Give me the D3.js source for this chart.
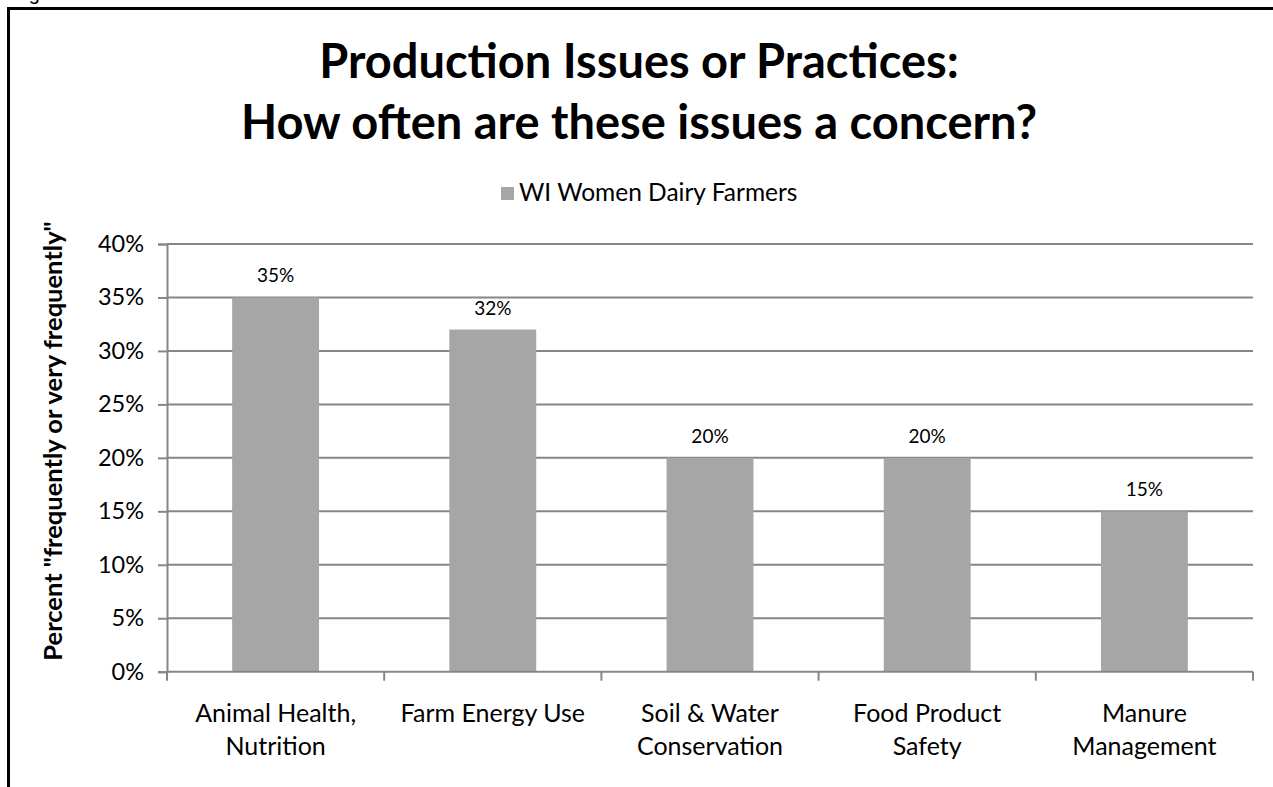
<!DOCTYPE html>
<html>
<head>
<meta charset="utf-8">
<script src="https://cdn.jsdelivr.net/npm/d3@7"></script>
<style>
  html, body { margin: 0; padding: 0; background: #fff; }
  svg { display: block; }
  text { font-family: Lato, "Open Sans", sans-serif; fill: #000; }
</style>
</head>
<body>
<svg id="chart" width="1273" height="787"></svg>
<script>
// ---- data ----
const categories = ["Animal Health,\nNutrition", "Farm Energy Use", "Soil & Water\nConservation", "Food Product\nSafety", "Manure\nManagement"];
const values = [0.35, 0.32, 0.20, 0.20, 0.15];
const seriesName = "WI Women Dairy Farmers";
const yTickValues = [0, 0.05, 0.10, 0.15, 0.20, 0.25, 0.30, 0.35, 0.40];
const titleLines = ["Production Issues or Practices:", "How often are these issues a concern?"];
const yAxisTitle = "Percent \"frequently or very frequently\"";
const figureLabel = "Figure 9";

// ---- layout ----
const W = 1273, H = 787;
const plot = { left: 167, right: 1253, top: 244, bottom: 671.7 };
const barColor = "#A6A6A6";
const gridColor = "#868686";

const svg = d3.select("#chart");

// figure label (cut off at top edge, as in the source page)
svg.append("text").attr("x", 12).attr("y", 0)
  .style("font-family", "Arial, 'Liberation Sans', sans-serif")
  .style("font-size", "20px").text(figureLabel);

// frame lines (top and left)
svg.append("line").attr("x1", 7).attr("x2", W).attr("y1", 8.5).attr("y2", 8.5)
  .attr("stroke", "#000").attr("stroke-width", 3);
svg.append("line").attr("x1", 8.5).attr("x2", 8.5).attr("y1", 7).attr("y2", H)
  .attr("stroke", "#000").attr("stroke-width", 3);

// scales
const x = d3.scaleBand().domain(categories).range([plot.left, plot.right])
  .paddingInner(0.6).paddingOuter(0.3);
const y = d3.scaleLinear().domain([0, 0.40]).range([plot.bottom, plot.top]);

// gridlines
svg.append("g").selectAll("line").data(yTickValues.filter(d => d > 0)).join("line")
  .attr("x1", plot.left).attr("x2", plot.right)
  .attr("y1", d => y(d)).attr("y2", d => y(d))
  .attr("stroke", gridColor).attr("stroke-width", 2);

// bars
svg.append("g").selectAll("rect").data(values).join("rect")
  .attr("x", (d, i) => x(categories[i]))
  .attr("width", x.bandwidth())
  .attr("y", d => y(d))
  .attr("height", d => y(0) - y(d))
  .attr("fill", barColor);

// data labels
svg.append("g").selectAll("text").data(values).join("text")
  .attr("x", (d, i) => x(categories[i]) + x.bandwidth() / 2)
  .attr("y", d => y(d) - 15)
  .attr("text-anchor", "middle")
  .style("font-size", "19px")
  .text(d => d3.format(".0%")(d));

// y axis
const yAxis = d3.axisLeft(y).tickValues(yTickValues).tickFormat(d3.format(".0%"))
  .tickSize(9).tickPadding(14);
const gy = svg.append("g").attr("transform", `translate(${plot.left},0)`).call(yAxis);
gy.select(".domain").attr("stroke", gridColor).attr("stroke-width", 2);
gy.selectAll(".tick line").attr("stroke", gridColor).attr("stroke-width", 2);
gy.selectAll(".tick text").style("font-family", "Lato, sans-serif").style("font-size", "23.5px").attr("fill", "#000");

// x axis
const gx = svg.append("g").attr("transform", `translate(0,${plot.bottom})`);
gx.append("line").attr("x1", plot.left).attr("x2", plot.right).attr("y1", 0).attr("y2", 0)
  .attr("stroke", gridColor).attr("stroke-width", 2);
const boundaries = categories.map((c, i) => plot.left + i * x.step());
boundaries.push(plot.right);
gx.selectAll("line.tk").data(boundaries).join("line").attr("class", "tk")
  .attr("x1", d => d).attr("x2", d => d).attr("y1", 0).attr("y2", 9)
  .attr("stroke", gridColor).attr("stroke-width", 2);

// x labels
const xl = svg.append("g").selectAll("text").data(categories).join("text")
  .attr("x", d => x(d) + x.bandwidth() / 2)
  .attr("y", 722)
  .attr("text-anchor", "middle")
  .style("font-size", "25px");
xl.selectAll("tspan").data(d => d.split("\n")).join("tspan")
  .attr("x", function () { return d3.select(this.parentNode).attr("x"); })
  .attr("dy", (d, i) => i === 0 ? 0 : 32.5)
  .text(d => d);

// y axis title
svg.append("text")
  .attr("transform", "translate(62,441) rotate(-90)")
  .attr("text-anchor", "middle")
  .style("font-size", "25.5px").style("font-weight", "bold")
  .text(yAxisTitle);

// title
svg.append("g").selectAll("text").data(titleLines).join("text")
  .attr("x", 639)
  .attr("y", (d, i) => 78 + i * 61)
  .attr("text-anchor", "middle")
  .style("font-size", "47px").style("font-weight", "bold")
  .text(d => d);

// legend
const lg = svg.append("g");
lg.append("rect").attr("x", 501).attr("y", 187).attr("width", 13).attr("height", 13).attr("fill", barColor);
lg.append("text").attr("x", 519).attr("y", 201).style("font-size", "24.5px").text(seriesName);
</script>
</body>
</html>
